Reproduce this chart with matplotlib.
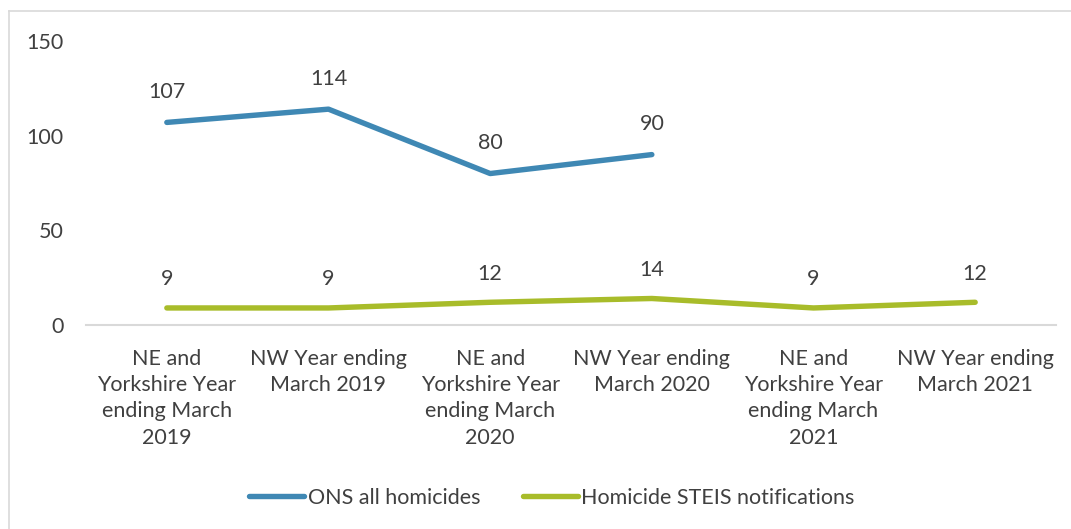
import matplotlib.pyplot as plt
import numpy as np

plt.rcParams['font.family'] = ['Lato', 'DejaVu Sans']

categories = ['NE and\nYorkshire Year\nending March\n2019',
              'NW Year ending\nMarch 2019',
              'NE and\nYorkshire Year\nending March\n2020',
              'NW Year ending\nMarch 2020',
              'NE and\nYorkshire Year\nending March\n2021',
              'NW Year ending\nMarch 2021']
ons_all = [107, 114, 80, 90]
steis = [9, 9, 12, 14, 9, 12]

blue = '#3f88b4'
green = '#a8bc2a'
text_col = '#404040'
fs = 15.5

fig = plt.figure(figsize=(10.71, 5.29), dpi=100)
ax = fig.add_axes([86/1071, 1 - 325/529, 970/1071, 284/529])

x = np.arange(len(categories))
ax.plot(x[:len(ons_all)], ons_all, color=blue, lw=3.9, solid_capstyle='round',
        solid_joinstyle='round', label='ONS all homicides')
ax.plot(x, steis, color=green, lw=3.9, solid_capstyle='round',
        solid_joinstyle='round', label='Homicide STEIS notifications')

for xi, v in zip(x, ons_all):
    ax.annotate(str(v), (xi, v), xytext=(0, 22), textcoords='offset points',
                ha='center', va='center', fontsize=fs, color=text_col)
for xi, v in zip(x, steis):
    ax.annotate(str(v), (xi, v), xytext=(0, 20.5), textcoords='offset points',
                ha='center', va='center', fontsize=fs, color=text_col)

ax.set_xlim(-0.5, len(categories) - 0.5)
ax.set_ylim(0, 150)
ax.set_yticks([0, 50, 100, 150])
ax.set_xticks(x)
ax.set_xticklabels(categories, fontsize=fs, color=text_col, linespacing=1.4)
ax.tick_params(axis='y', labelsize=fs, labelcolor=text_col, length=0, pad=16)
ax.tick_params(axis='x', length=0, pad=17)

for side in ['top', 'right', 'left']:
    ax.spines[side].set_visible(False)
ax.spines['bottom'].set_color('#d9d9d9')
ax.spines['bottom'].set_linewidth(1.5)

leg = fig.legend(loc='center', bbox_to_anchor=(552/1071, 1 - 498/529), ncol=2,
                 frameon=False, fontsize=fs, handlelength=2.55, columnspacing=2.0,
                 handletextpad=0.15, labelcolor=text_col)

# thin frame around the chart area
fig.add_artist(plt.Line2D([9/1071, 9/1071], [0, 1 - 11/529], color='#d9d9d9', lw=1.2))
fig.add_artist(plt.Line2D([9/1071, 1], [1 - 11/529, 1 - 11/529], color='#d9d9d9', lw=1.2))

fig.savefig('out.png', dpi=100)
